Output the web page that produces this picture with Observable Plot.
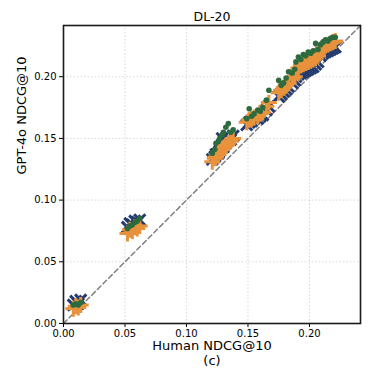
<!DOCTYPE html>
<html>
<head>
<meta charset="utf-8">
<script src="https://cdn.jsdelivr.net/npm/d3@7"></script>
<script src="https://cdn.jsdelivr.net/npm/@observablehq/plot@0.6"></script>
<style>
  html, body { margin: 0; padding: 0; background: #fff; }
</style>
</head>
<body>
<div id="chart"></div>
<script>
// Human NDCG@10 for each run (shared x)
const humanX = [
  0.008, 0.010, 0.012, 0.014,
  0.052, 0.054, 0.056, 0.058, 0.060, 0.062,
  0.121, 0.123, 0.124, 0.126, 0.127, 0.129, 0.130, 0.132, 0.134, 0.136, 0.138,
  0.149, 0.151, 0.153, 0.155,
  0.158, 0.160, 0.162,
  0.165, 0.167,
  0.175, 0.177, 0.179, 0.181, 0.183,
  0.186, 0.188,
  0.189, 0.191, 0.193, 0.195, 0.197, 0.199, 0.201, 0.203, 0.205, 0.207,
  0.209, 0.211, 0.213, 0.215, 0.217, 0.219, 0.221
];
// GPT-4o NDCG@10, navy "x" series
const navyY = [
  0.015, 0.018, 0.016, 0.019,
  0.078, 0.081, 0.080, 0.083, 0.082, 0.084,
  0.133, 0.135, 0.137, 0.138, 0.140, 0.150, 0.143, 0.146, 0.150, 0.149, 0.152,
  0.161, 0.163, 0.164, 0.166,
  0.166, 0.168, 0.169,
  0.173, 0.176,
  0.184, 0.186, 0.188, 0.190, 0.192,
  0.195, 0.197,
  0.200, 0.202, 0.203, 0.204, 0.205, 0.206, 0.207, 0.208, 0.210, 0.212,
  0.217, 0.219, 0.220, 0.221, 0.222, 0.223, 0.224
];
// GPT-4o NDCG@10, orange "+" series
const orangeY = [
  0.012, 0.014, 0.013, 0.015,
  0.073, 0.076, 0.075, 0.078, 0.077, 0.079,
  0.131, 0.134, 0.135, 0.137, 0.139, 0.141, 0.142, 0.144, 0.146, 0.148, 0.150,
  0.163, 0.165, 0.166, 0.167,
  0.168, 0.170, 0.171,
  0.176, 0.179,
  0.187, 0.189, 0.191, 0.193, 0.195,
  0.198, 0.200,
  0.205, 0.207, 0.209, 0.210, 0.211, 0.212, 0.213, 0.214, 0.215, 0.217,
  0.222, 0.224, 0.225, 0.226, 0.227, 0.228, 0.229
];
// GPT-4o NDCG@10, green dot series
const greenY = [
  0.015, 0.016, 0.015, 0.017,
  0.077, 0.079, 0.080, 0.082, 0.083, 0.085,
  0.138, 0.141, 0.146, 0.148, 0.150, 0.153, 0.155, 0.159, 0.162, 0.155, 0.157,
  0.166, 0.174, 0.168, 0.170,
  0.173, 0.172, 0.175,
  0.181, 0.189,
  0.197, 0.193, 0.195, 0.199, 0.204,
  0.203, 0.206,
  0.212, 0.216, 0.214, 0.218, 0.217, 0.220, 0.219, 0.221, 0.227, 0.222,
  0.226, 0.228, 0.230, 0.229, 0.231, 0.232, 0.232
];
const axisMax = 0.2415;
const tickValues = [0, 0.05, 0.10, 0.15, 0.20];
const title = "DL-20";
const xLabel = "Human NDCG@10";
const yLabel = "GPT-4o NDCG@10";
const subLabel = "(c)";

const navy = humanX.map((x, i) => ({x, y: navyY[i]}));
const orange = humanX.map((x, i) => ({x, y: orangeY[i]}));
const green = humanX.map((x, i) => ({x, y: greenY[i]}));
const diag = [{v: 0}, {v: axisMax}];
const fmt = d3.format(".2f");

const chart = Plot.plot({
  width: 379,
  height: 379,
  marginLeft: 63,
  marginRight: 19,
  marginTop: 25,
  marginBottom: 56,
  style: {fontFamily: "DejaVu Sans", fontSize: "10px", color: "#000", background: "#fff"},
  x: {domain: [0, axisMax], label: null},
  y: {domain: [0, axisMax], label: null},
  marks: [
    Plot.gridX(tickValues, {stroke: "#c8c8c8", strokeOpacity: 0.7, strokeDasharray: "1.5,2"}),
    Plot.gridY(tickValues, {stroke: "#c8c8c8", strokeOpacity: 0.7, strokeDasharray: "1.5,2"}),
    Plot.line(diag, {x: "v", y: "v", stroke: "#7f7f7f", strokeWidth: 1.5, strokeDasharray: "5,3"}),
    Plot.dot(navy, {x: "x", y: "y", symbol: "times", r: 5.2, stroke: "#233b70", strokeWidth: 3}),
    Plot.dot(orange, {x: "x", y: "y", symbol: "plus", r: 5.2, stroke: "#e8923c", strokeWidth: 3}),
    Plot.dot(green, {x: "x", y: "y", r: 2.8, fill: "#2d6b3e", stroke: "none"}),
    Plot.axisX(tickValues, {tickFormat: fmt, tickSize: 4, tickPadding: 2, label: null}),
    Plot.axisY(tickValues, {tickFormat: fmt, tickSize: 4, tickPadding: 3, label: null}),
    Plot.frame({stroke: "#1a1a1a", strokeWidth: 1.6}),
    Plot.text([title], {text: d => d, frameAnchor: "top", dy: -13, fontSize: 12.5}),
    Plot.text([xLabel], {text: d => d, frameAnchor: "bottom", dy: 26, fontSize: 13}),
    Plot.text([subLabel], {text: d => d, frameAnchor: "bottom", dy: 41, fontSize: 13}),
    Plot.text([yLabel], {text: d => d, frameAnchor: "left", dx: -42, rotate: -90, fontSize: 13})
  ]
});
document.getElementById("chart").appendChild(chart);
</script>
</body>
</html>
